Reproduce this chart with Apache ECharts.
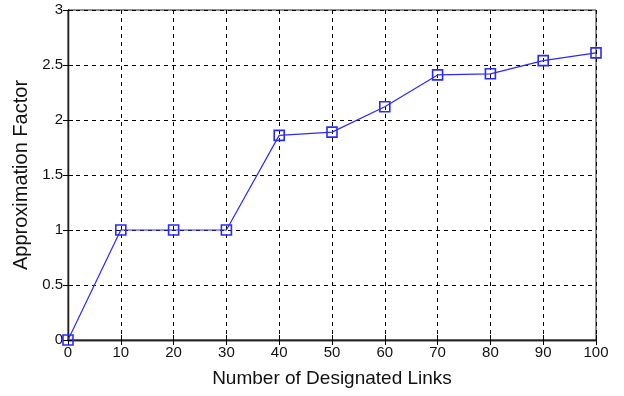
<!DOCTYPE html>
<html><head><meta charset="utf-8">
<script src="https://cdn.jsdelivr.net/npm/echarts@6/dist/echarts.min.js"></script>
<style>html,body{margin:0;padding:0;background:#fff}#c{width:624px;height:396px}</style>
</head><body><div id="c"></div>
<script>
const links = [0, 10, 20, 30, 40, 50, 60, 70, 80, 90, 100];
const factor = [0, 1.0, 1.0, 1.0, 1.86, 1.89, 2.12, 2.41, 2.42, 2.54, 2.61];
const xTitle = 'Number of Designated Links';
const yTitle = 'Approximation Factor';

const chart = echarts.init(document.getElementById('c'));
const font = 'Liberation Sans, Arial, sans-serif';
const baseX = {
  type: 'value', min: 0, max: 100, interval: 10,
  axisLine: {show: true, lineStyle: {color: '#222', width: 1.3}},
  axisTick: {show: true, inside: true, length: 5, lineStyle: {color: '#000'}},
  splitLine: {show: false}
};
const baseY = {
  type: 'value', min: 0, max: 3, interval: 0.5,
  axisLine: {show: true, lineStyle: {color: '#222', width: 1.3}},
  axisTick: {show: true, inside: true, length: 5, lineStyle: {color: '#000'}},
  splitLine: {show: false}
};
chart.setOption({
  animation: false,
  grid: {left: 68, right: 28, top: 10, bottom: 56, show: true, borderColor: '#222', borderWidth: 1,
         containLabel: false, outerBoundsMode: 'none'},
  xAxis: [
    Object.assign({}, baseX, {
      position: 'bottom',
      name: xTitle, nameLocation: 'middle', nameGap: 29,
      nameTextStyle: {fontFamily: font, fontSize: 19, color: '#111'},
      axisLabel: {fontFamily: font, fontSize: 15, color: '#111', margin: 5},
      splitLine: {show: true, lineStyle: {color: '#000', type: [4, 4], width: 1}}
    }),
    Object.assign({}, baseX, {position: 'top', axisLabel: {show: false}})
  ],
  yAxis: [
    Object.assign({}, baseY, {
      position: 'left',
      name: yTitle, nameLocation: 'middle', nameGap: 32,
      nameTextStyle: {fontFamily: font, fontSize: 20, color: '#111'},
      axisLabel: {fontFamily: font, fontSize: 15, color: '#111', margin: 5},
      splitLine: {show: true, lineStyle: {color: '#000', type: [4, 4], width: 1}}
    }),
    Object.assign({}, baseY, {position: 'right', axisLabel: {show: false}})
  ],
  series: [{
    type: 'line',
    data: links.map((x, i) => [x, factor[i]]),
    symbol: 'rect', symbolSize: 10,
    itemStyle: {color: 'transparent', borderColor: '#2a2aff', borderWidth: 1.6},
    lineStyle: {color: '#2a2aff', width: 1.2},
    clip: false
  }]
});
</script></body></html>
